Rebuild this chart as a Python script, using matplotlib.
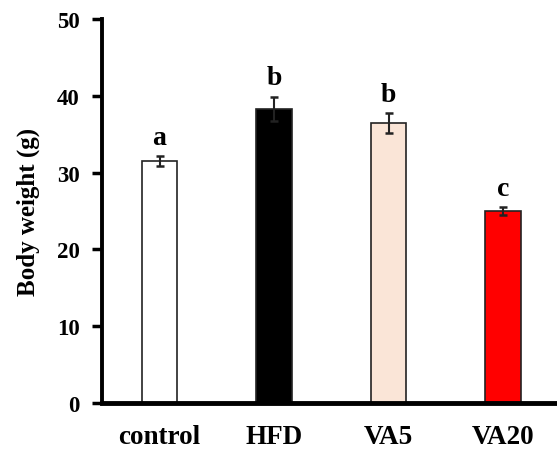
import matplotlib
matplotlib.use("Agg")
import matplotlib.pyplot as plt
import numpy as np

categories = ["control", "HFD", "VA5", "VA20"]
values = [31.5, 38.3, 36.4, 25.0]
errors = [0.7, 1.6, 1.3, 0.5]
letters = ["a", "b", "b", "c"]
colors = ["#ffffff", "#000000", "#fae5d7", "#ff0000"]
yticks = [0, 10, 20, 30, 40, 50]

plt.rcParams['font.family'] = ['Liberation Serif', 'DejaVu Serif']
plt.rcParams['font.weight'] = 'bold'

fig = plt.figure(figsize=(5.57, 4.52), dpi=100)
ax = fig.add_axes([102/557, 1 - 404/452, (557 - 102)/557, (404 - 20)/452])

x = np.arange(len(categories))
ax.bar(x, values, width=0.31, color=colors, edgecolor="#222222", linewidth=1.2, zorder=2)
ax.errorbar(x, values, yerr=errors, fmt="none", ecolor="#222222", elinewidth=1.5,
            capsize=3, capthick=1.8, zorder=3)
for xi, v, e, l in zip(x, values, errors, letters):
    ax.text(xi, v + e + 0.8, l, ha="center", va="bottom", fontsize=20, fontweight="bold")

ax.set_xlim(-0.502, 3.47)
ax.set_ylim(0, 50)
ax.set_yticks(yticks)
ax.set_xticks(x)
ax.set_xticklabels(categories, fontsize=19.5, fontweight="bold")
ax.tick_params(axis="x", length=0, pad=15)
ax.tick_params(axis="y", direction="out", length=7, width=2.5, labelsize=16.5, pad=9)
for lab in ax.get_yticklabels():
    lab.set_fontweight("bold")
ax.spines["top"].set_visible(False)
ax.spines["right"].set_visible(False)
ax.spines["left"].set_linewidth(2.8)
ax.spines["bottom"].set_linewidth(3.5)
ax.set_ylabel("Body weight (g)", fontsize=18, fontweight="bold", labelpad=12)

fig.savefig("out.png", dpi=100)
